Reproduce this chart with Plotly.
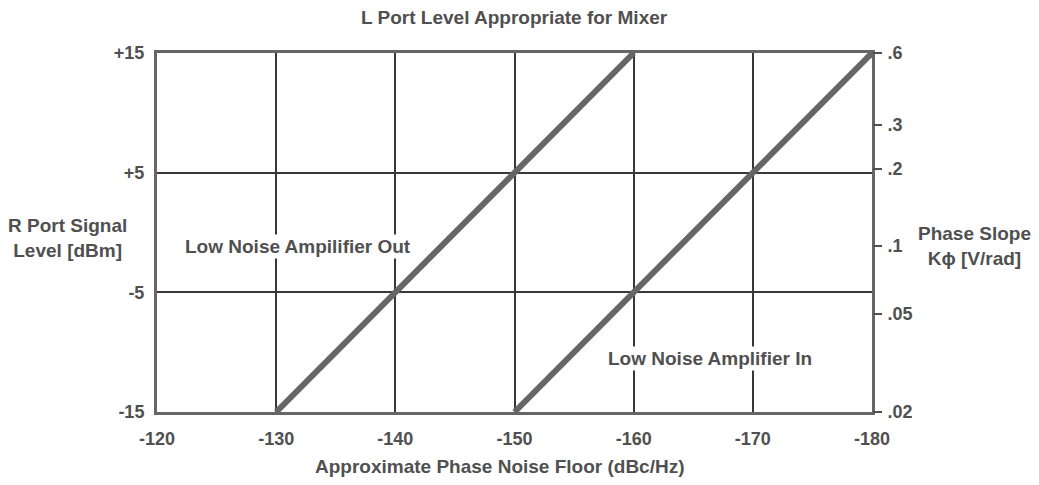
import plotly.graph_objects as go

# phase noise floor (dBc/Hz) vs R port level (dBm)
amp_out_x = [-130, -160]
amp_out_y = [-15, 15]
amp_in_x = [-150, -180]
amp_in_y = [-15, 15]

x_ticks = [-120, -130, -140, -150, -160, -170, -180]
left_ticks = [15, 5, -5, -15]
left_text = ["+15", "+5", "-5", "-15"]
# Phase slope labels, placed where they sit against the dBm scale
right_ticks = [15, 9.0, 5.3, -1.1, -6.8, -15]
right_text = [".6", ".3", ".2", ".1", ".05", ".02"]

INK = "#505050"
LINE = "#666666"
FONT = "Liberation Sans"

fig = go.Figure()
for xs, ys in [(amp_out_x, amp_out_y), (amp_in_x, amp_in_y)]:
    fig.add_trace(go.Scatter(x=xs, y=ys, mode="lines",
                             line=dict(color=LINE, width=6),
                             showlegend=False, hoverinfo="skip"))
fig.add_trace(go.Scatter(x=[None], y=[None], yaxis="y2",
                         showlegend=False, hoverinfo="skip"))

tickfont = dict(family=FONT, size=18, color=INK, weight="bold")

# page body adds an 8px offset, so the figure is 8px smaller on each side
fig.update_layout(
    width=1031, height=477,
    margin=dict(l=149, r=167, t=45, b=73),
    paper_bgcolor="white", plot_bgcolor="white",
    font=dict(family=FONT, color=INK),
    xaxis=dict(range=[-120, -180], tickvals=x_ticks,
               ticktext=[str(v) for v in x_ticks],
               showgrid=True, gridcolor="#383838", gridwidth=2,
               showline=True, mirror=True, linecolor=LINE, linewidth=3,
               zeroline=False, ticks="", tickfont=tickfont,
               ticklabelstandoff=8),
    yaxis=dict(range=[-15, 15], tickvals=left_ticks, ticktext=left_text,
               showgrid=True, gridcolor="#383838", gridwidth=2,
               showline=True, mirror=True, linecolor=LINE, linewidth=3,
               zeroline=False, ticks="", tickfont=tickfont,
               ticklabelstandoff=6),
    yaxis2=dict(range=[-15, 15], overlaying="y", side="right",
                tickvals=right_ticks, ticktext=right_text,
                showgrid=False, zeroline=False, showline=False,
                ticks="outside", ticklen=9, tickwidth=1.5, tickcolor=INK,
                tickfont=tickfont, ticklabelstandoff=2),
)

ann = dict(showarrow=False, xanchor="center", yanchor="middle",
           font=dict(family=FONT, size=19, color=INK, weight="bold"))
fig.add_annotation(text="L Port Level Appropriate for Mixer", xref="paper", yref="paper",
                   x=0.5, y=1.0975, **ann)
fig.add_annotation(text="Approximate Phase Noise Floor (dBc/Hz)", xref="paper", yref="paper",
                   x=0.48, y=-0.153, **ann)
fig.add_annotation(text="R Port Signal<br>Level [dBm]", xref="paper", yref="paper",
                   x=-0.1245, y=0.485, **ann)
fig.add_annotation(text="Phase Slope<br>K\u03d5 [V/rad]", xref="paper", yref="paper",
                   x=1.144, y=0.462, **ann)
fig.add_annotation(text="Low Noise Ampilifier Out", x=-131.8, y=-1.2,
                   bgcolor="white", **ann)
fig.add_annotation(text="Low Noise Amplifier In", x=-166.4, y=-10.5,
                   bgcolor="white", **ann)

fig.write_html("out.html")
